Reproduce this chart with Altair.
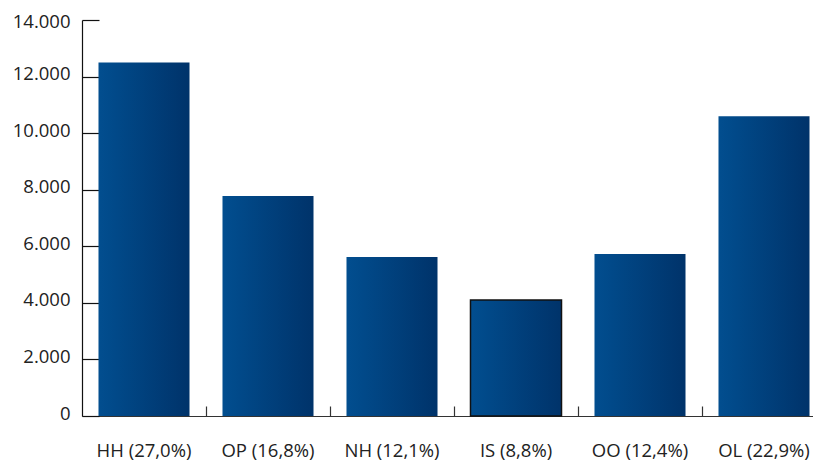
import altair as alt
import pandas as pd

categories = ["HH (27,0%)", "OP (16,8%)", "NH (12,1%)", "IS (8,8%)", "OO (12,4%)", "OL (22,9%)"]
values = [12500, 7780, 5620, 4100, 5730, 10600]
outlined = [False, False, False, True, False, False]
y_ticks = [0, 2000, 4000, 6000, 8000, 10000, 12000, 14000]

df = pd.DataFrame({"cat": categories, "val": values, "outl": outlined})

W, H = 731, 396
STEP = 124
FONT = "Open Sans"
FS = 18.5
gradient = {
    "gradient": "linear", "x1": 0, "x2": 1, "y1": 0, "y2": 0,
    "stops": [{"offset": 0, "color": "#024e8f"}, {"offset": 0.15, "color": "#014a8a"},
              {"offset": 1, "color": "#00336a"}],
}

xscale = alt.Scale(range=[0, 744], paddingInner=0.266, paddingOuter=0.133)
yscale = alt.Scale(domain=[0, 14000], nice=False)

bars = alt.Chart(df).mark_bar(color=gradient, stroke="#111111").encode(
    x=alt.X("cat:N", sort=categories, scale=xscale, title=None,
            axis=alt.Axis(orient="bottom", ticks=False, domain=True, domainColor="#333333",
                          domainWidth=1.2, labelAngle=0, labelFont=FONT, labelFontSize=FS,
                          labelColor="#222222", labelPadding=25, grid=False)),
    y=alt.Y("val:Q", scale=yscale, title=None,
            axis=alt.Axis(orient="left", values=y_ticks, ticks=False, domain=True,
                          domainColor="#111111", domainWidth=1.2, labelFont=FONT,
                          labelFontSize=FS, labelColor="#222222", labelPadding=12,
                          labelOffset={"condition": {"test": "datum.value == 14000", "value": 1},
                                       "value": -3},
                          labelExpr="replace(format(datum.value, ',d'), ',', '.')",
                          grid=False)),
    strokeWidth=alt.condition(alt.datum.outl, alt.value(1.5), alt.value(0)),
)

ticks = alt.Chart(df).mark_bar(opacity=0).encode(
    x=alt.X("cat:N", sort=categories, scale=xscale, title=None,
            axis=alt.Axis(orient="top", offset=-H, labels=False, domain=False, ticks=True,
                          tickSize=10, tickOffset=STEP / 2, tickColor="#333333",
                          tickWidth=1.2, grid=False)),
    y=alt.Y("val:Q", scale=yscale, title=None,
            axis=alt.Axis(orient="right", offset=-W, values=y_ticks, labels=False,
                          domain=False, ticks=True, tickSize=17, tickColor="#111111",
                          tickWidth=1.2, grid=False)),
)

chart = alt.layer(bars, ticks).resolve_axis(x="independent", y="independent").properties(
    width=W, height=H,
    autosize=alt.AutoSizeParams(type="none"),
    padding={"left": 74, "top": 12, "right": 0, "bottom": 48},
).configure_view(stroke=None)

chart.save("out.html", embed_options={"renderer": "svg", "actions": False})
